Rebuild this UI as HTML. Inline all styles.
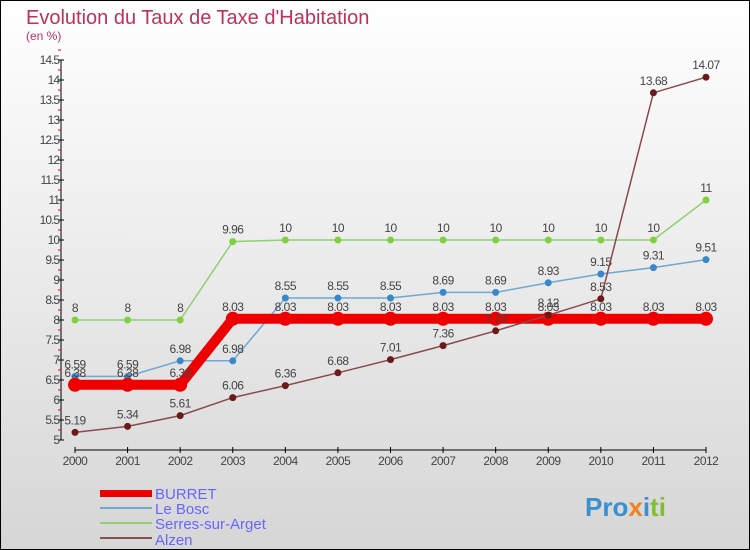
<!DOCTYPE html>
<html><head><meta charset="utf-8"><style>
body{margin:0}
svg{display:block;font-family:"Liberation Sans",sans-serif}
</style></head><body>
<svg width="750" height="550" viewBox="0 0 750 550">
<defs><linearGradient id="bg" x1="0" y1="0" x2="0" y2="1"><stop offset="0" stop-color="#ffffff"/><stop offset="1" stop-color="#d6d6d6"/></linearGradient></defs>
<rect x="0.5" y="0.5" width="749" height="549" fill="url(#bg)" stroke="#000"/>
<text x="26" y="24" font-size="20" fill="#c0305c">Evolution du Taux de Taxe d'Habitation</text>
<text x="26" y="40" font-size="12" fill="#c0305c">(en %)</text>
<g id="axes"></g>
<g id="series"></g>
<g id="legend">
<rect x="100" y="490" width="52" height="7" fill="#e00"/>
<text x="155" y="499" font-size="15" fill="#6666ff">BURRET</text>
<line x1="100" y1="508" x2="152" y2="508" stroke="#6fa8d0" stroke-width="2"/>
<text x="155" y="514" font-size="15" fill="#6666ff">Le Bosc</text>
<line x1="100" y1="523" x2="152" y2="523" stroke="#8fd070" stroke-width="2"/>
<text x="155" y="529" font-size="15" fill="#6666ff">Serres-sur-Arget</text>
<line x1="100" y1="538" x2="152" y2="538" stroke="#8a5050" stroke-width="2"/>
<text x="155" y="545" font-size="15" fill="#6666ff">Alzen</text>
</g>
<g font-size="26" font-weight="bold">
<text x="585" y="516"><tspan fill="#3a8fd0">Pro</tspan><tspan fill="#f08020">x</tspan><tspan fill="#3a8fd0">i</tspan><tspan fill="#80c030">ti</tspan></text>
</g>
</svg>
<script>
const years=[2000,2001,2002,2003,2004,2005,2006,2007,2008,2009,2010,2011,2012];
const burret=[6.38,6.38,6.38,8.03,8.03,8.03,8.03,8.03,8.03,8.03,8.03,8.03,8.03];
const leBosc=[6.59,6.59,6.98,6.98,8.55,8.55,8.55,8.69,8.69,8.93,9.15,9.31,9.51];
const serres=[8,8,8,9.96,10,10,10,10,10,10,10,10,11];
const alzen=[5.19,5.34,5.61,6.06,6.36,6.68,7.01,7.36,7.73,8.12,8.53,13.68,14.07];
const yTicks=[5,5.5,6,6.5,7,7.5,8,8.5,9,9.5,10,10.5,11,11.5,12,12.5,13,13.5,14,14.5];
const NS="http://www.w3.org/2000/svg";
function X(i){return 75+i*(706-75)/(years.length-1);}
function Y(v){return 440-(v-5)*40;}
function mk(tag,attrs,parent){const e=document.createElementNS(NS,tag);for(const k in attrs)e.setAttribute(k,attrs[k]);parent.appendChild(e);return e;}
const ax=document.getElementById('axes');
let l=mk('line',{x1:61,y1:Y(14.5),x2:61,y2:Y(5),stroke:'#000'},ax);


l=mk('line',{x1:75,y1:450,x2:706,y2:450,stroke:'#000'},ax);


yTicks.forEach(v=>{
  const t=mk('line',{x1:58,y1:Y(v),x2:64,y2:Y(v),stroke:'#000'},ax);
  
  
  const r=mk('line',{x1:58,y1:Y(v)-10,x2:61,y2:Y(v)-10,stroke:'#e00'},ax);
  
  
  const tx=mk('text',{x:59,y:Y(v)+4,'font-size':12,fill:'#444','text-anchor':'end','letter-spacing':'-1'},ax);
  tx.textContent=String(v);
  
  
});
years.forEach((yr,i)=>{
  const t=mk('line',{x1:X(i),y1:447,x2:X(i),y2:453,stroke:'#000'},ax);
  
  
  const tx=mk('text',{x:X(i),y:465,'font-size':12,fill:'#444','text-anchor':'middle','letter-spacing':'-0.5'},ax);
  tx.textContent=String(yr);
  
  
});
const sg=document.getElementById('series');
function series(vals,name,color,w,r,dot,labelColor){
  const g=mk('g',{},sg);
  
  
  const pts=vals.map((v,i)=>X(i)+','+Y(v)).join(' ');
  const p=mk('polyline',{points:pts,fill:'none',stroke:color,'stroke-width':w},g);
  
  
  vals.forEach((v,i)=>{
    const c=mk('circle',{cx:X(i),cy:Y(v),r:r,fill:dot},g);
    
    
    const t=mk('text',{x:X(i),y:Y(v)-8,'font-size':12,fill:'#444','text-anchor':'middle','letter-spacing':'-0.5'},g);
    t.textContent=String(v);
    
    
  });
}
series(serres,'serres-sur-arget','#8fd070',1.5,3.5,'#80d040');
series(leBosc,'le-bosc','#6fa8d0',1.5,3.5,'#3a88c8');
series(burret,'burret','#ee0000',10,7,'#ee0000');
series(alzen,'alzen','#8a4a4a',1.5,3.5,'#6a1a1a');
</script>
</body></html>
